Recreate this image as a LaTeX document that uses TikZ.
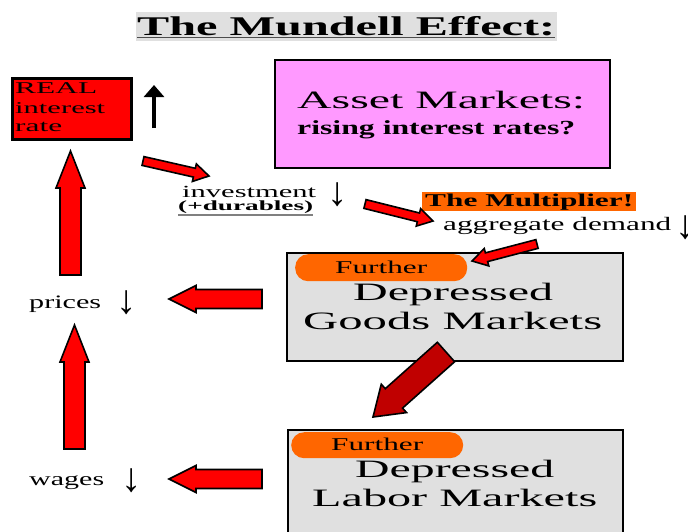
\documentclass[tikz,border=0pt]{standalone}
\usepackage{fontspec}
\setmainfont{Liberation Serif}
\usepackage{graphicx}
\usetikzlibrary{calc,arrows.meta}
\definecolor{pinkbox}{HTML}{FF99FF}
\definecolor{orng}{HTML}{FF6600}
\definecolor{lgray}{HTML}{E0E0E0}
\definecolor{dred}{HTML}{C00000}
\newcommand\W[2]{\resizebox{#1pt}{\height}{#2}}
\newcommand\fs[1]{\fontsize{#1}{#1}\selectfont}
\newcommand\dnarr{\resizebox*{!}{24pt}{↓}}
\newcommand\blockarr[6]{%
  \coordinate (N) at ($(#2)!#5!(#1)$);
  \draw[#6] ($(#1)!#3!90:(#2)$) -- ($(N)!#3!90:(#2)$) -- ($(N)!#4!90:(#2)$) -- (#2)
     -- ($(N)!#4!-90:(#2)$) -- ($(N)!#3!-90:(#2)$) -- ($(#1)!#3!-90:(#2)$) -- cycle;}
\begin{document}
\begin{tikzpicture}[x=1pt,y=-1pt,
  txt/.style={inner sep=0pt, anchor=base west},
  box/.style={draw=black, line width=2pt, anchor=north west, inner sep=0pt},
  pill/.style={fill=orng, rounded corners=13pt, anchor=north west, inner sep=0pt},
  blk/.style={draw=black, line width=1.6pt, line join=miter, fill=red},
  dblk/.style={blk, fill=dred},
  dn/.style={inner sep=0pt, anchor=north}]
\useasboundingbox (0,0) rectangle (688,531);
% title
\node[fill=lgray, anchor=north west, minimum width=421pt, minimum height=29pt, inner sep=0pt] (titlebg) at (136,12) {};
\node[txt] (title) at (137,35) {\fs{27}\bfseries\W{418}{The Mundell Effect:}};
\draw[gray!60!black, line width=1.2pt] ($(title.base west)+(0,2.5)$) -- ($(title.base east)+(0,2.5)$);
% REAL interest rate
\node[box, fill=red, line width=3pt, minimum width=119pt, minimum height=61pt] (real) at (11,77) {};
\node[txt] (r1) at (15,93) {\fs{16.5}\W{82}{REAL}};
\node[txt] (r2) at (15,113) {\fs{16.5}\W{90}{interest}};
\node[txt] (r3) at (15,131) {\fs{16.5}\W{47}{rate}};
\coordinate (upA) at (154,128);
\coordinate (upB) at (154,85);
\draw[line width=3.3pt, -{Triangle[length=12pt,width=20pt]}] (upA) -- (upB);
% asset markets
\node[box, fill=pinkbox, minimum width=335pt, minimum height=108pt] (asset) at (274,59) {};
\node[txt] (am) at (297,108) {\fs{25}\W{288}{Asset Markets:}};
\node[txt] (ri) at (297,134) {\fs{20}\bfseries\W{278}{rising interest rates?}};
% investment
\node[txt] (inv) at (182,197.5) {\fs{17}\W{134}{investment}};
\node[dn] (invarr) at (338,182) {\dnarr};
\node[txt] (dur) at (178,210.5) {\fs{14}\bfseries\W{135}{(+durables)}};
\draw[gray, line width=1.2pt] ($(dur.base west)+(0,4.5)$) -- ($(dur.base east)+(0,4.5)$);
% multiplier
\node[fill=orng, anchor=north west, minimum width=214pt, minimum height=19pt, inner sep=0pt] (multbg) at (422,192) {};
\node[txt] (mult) at (425,206) {\fs{18}\bfseries\W{208}{The Multiplier!}};
\node[txt] (agg) at (443,230) {\fs{19}\W{228}{aggregate demand}};
\node[dn] (aggarr) at (686,215) {\dnarr};
% goods markets
\node[box, fill=lgray, minimum width=336pt, minimum height=108pt] (goods) at (286,252) {};
\node[pill, minimum width=172pt, minimum height=27pt] (gf) at (295,254) {};
\node[txt] (gft) at (335,273) {\fs{18}\W{92}{Further}};
\node[txt] (gd1) at (353,300) {\fs{25}\W{200}{Depressed}};
\node[txt] (gd2) at (303,329) {\fs{25}\W{299}{Goods Markets}};
% labor markets
\node[box, fill=lgray, minimum width=335pt, minimum height=112pt] (labor) at (287,429) {};
\node[pill, minimum width=172pt, minimum height=26pt] (lf) at (291,432) {};
\node[txt] (lft) at (331,450) {\fs{18}\W{92}{Further}};
\node[txt] (ld1) at (355,477) {\fs{25}\W{199}{Depressed}};
\node[txt] (ld2) at (312,506) {\fs{25}\W{285}{Labor Markets}};
% prices, wages
\node[txt] (pr) at (29,308) {\fs{19}\W{72}{prices}};
\node[dn] (prarr) at (127,290) {\dnarr};
\node[txt] (wg) at (29,485) {\fs{19}\W{75}{wages}};
\node[dn] (wgarr) at (132,468) {\dnarr};
% block arrows
\coordinate (a1s) at (143,161); \coordinate (a1e) at (209,176);
\coordinate (a2s) at (365,204); \coordinate (a2e) at (433,221);
\coordinate (a3s) at (537,244); \coordinate (a3e) at (472,261);
\coordinate (a4s) at (446,352); \coordinate (a4e) at (373,417);
\coordinate (a5s) at (262,299); \coordinate (a5e) at (169,299);
\coordinate (a6s) at (262,479); \coordinate (a6e) at (169,479);
\coordinate (a7s) at (70.5,275); \coordinate (a7e) at (70.5,151);
\coordinate (a8s) at (74.5,449); \coordinate (a8e) at (74.5,325);
\blockarr{a1s}{a1e}{4.5pt}{9pt}{15pt}{blk}
\blockarr{a2s}{a2e}{4.5pt}{9pt}{15pt}{blk}
\blockarr{a3s}{a3e}{4.5pt}{9pt}{15pt}{blk}
\blockarr{a4s}{a4e}{13pt}{19pt}{28pt}{dblk}
\blockarr{a5s}{a5e}{9.5pt}{13.5pt}{27pt}{blk}
\blockarr{a6s}{a6e}{9.5pt}{13.5pt}{27pt}{blk}
\blockarr{a7s}{a7e}{10.5pt}{14.5pt}{37pt}{blk}
\blockarr{a8s}{a8e}{10.5pt}{14.5pt}{37pt}{blk}
\end{tikzpicture}
\end{document}
